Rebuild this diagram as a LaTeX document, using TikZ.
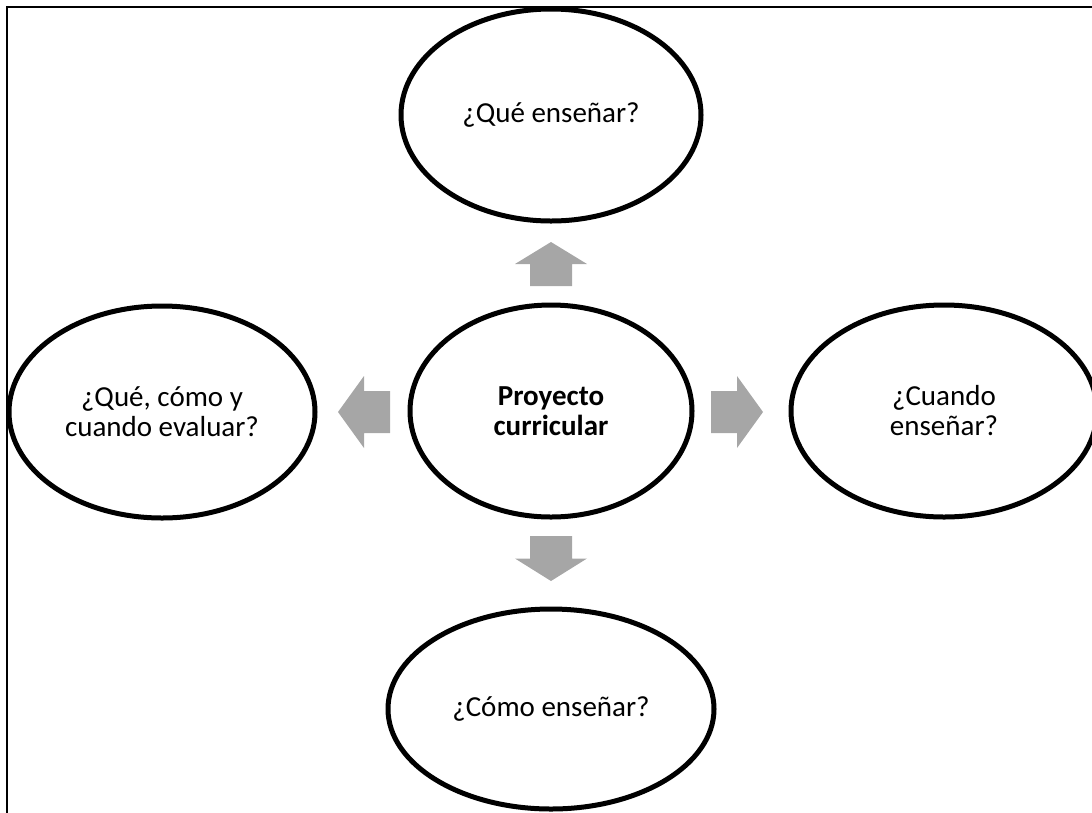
\documentclass[tikz,border=0pt]{standalone}
\usepackage{fontspec}
\setmainfont{Carlito}
\usetikzlibrary{shapes.geometric}
\definecolor{arrowgray}{HTML}{A6A6A6}
\tikzset{
  bubble/.style={ellipse, draw=black, line width=5pt, fill=white, inner sep=0pt,
    align=center, font=\fontsize{29}{30}\selectfont},
  pics/blockarrow/.style={code={
    \fill[arrowgray] (0,-21) -- (#1/2,-21) -- (#1/2,-36) -- (#1,0)
      -- (#1/2,36) -- (#1/2,21) -- (0,21) -- cycle;}}
}
\begin{document}
\begin{tikzpicture}[x=1pt, y=-1pt]
  \useasboundingbox (0,0) rectangle (1092,812);
  % frame (only left and top edges fall inside the page)
  \draw[line width=2pt] (7,820) -- (7,7) -- (1100,7);

  % the five ellipses
  \node[bubble, minimum width=300pt, minimum height=212pt] (que) at (551,115) {¿Qué enseñar?};
  \node[bubble, minimum width=282pt, minimum height=212pt] (pc) at (551,411) {\textbf{Proyecto}\\\textbf{curricular}};
  \node[bubble, minimum width=306pt, minimum height=212pt] (eval) at (162,412) {¿Qué, cómo y\\cuando evaluar?};
  \node[bubble, minimum width=306pt, minimum height=212pt] (cuando) at (944,411) {¿Cuando\\enseñar?};
  \node[bubble, minimum width=326pt, minimum height=200pt] (como) at (551,709) {¿Cómo enseñar?};

  % block arrows radiating from the centre
  \pic[rotate=90]  at (551,286) {blockarrow=44};
  \pic[rotate=-90] at (551,536) {blockarrow=45};
  \pic[rotate=180] at (390,412) {blockarrow=52};
  \pic             at (711,412) {blockarrow=52};
\end{tikzpicture}
\end{document}
